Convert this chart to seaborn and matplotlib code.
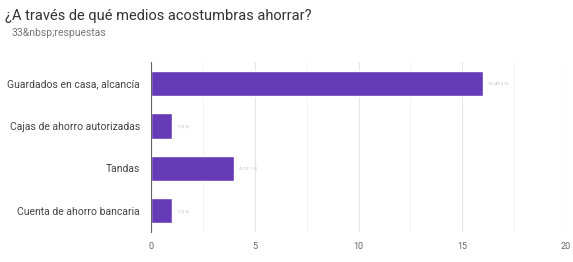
import matplotlib
matplotlib.use("Agg")
import matplotlib.pyplot as plt
import seaborn as sns
import pandas as pd

categories = ["Guardados en casa, alcancía", "Cajas de ahorro autorizadas", "Tandas", "Cuenta de ahorro bancaria"]
values = [16, 1, 4, 1]
value_labels = ["16 (48.5 %)", "1 (3 %)", "4 (12.1 %)", "1 (3 %)"]
xticks = [0, 5, 10, 15, 20]

sns.set_theme(style="white")
plt.rcParams['font.family'] = ['Roboto', 'DejaVu Sans']

df = pd.DataFrame({"medio": categories, "n": values})

fig = plt.figure(figsize=(5.73, 2.62), dpi=100)
ax = fig.add_axes([151/573, 1-232/262, (566-151)/573, (232-62)/262])
sns.barplot(data=df, y="medio", x="n", color="#673ab7", saturation=1, width=0.6, ax=ax, orient="h")

ax.set_xlim(0, 20)
ax.set_xticks(xticks)
ax.set_xticks([2.5, 7.5, 12.5, 17.5], minor=True)
ax.grid(axis="x", which="major", color="#e6e6e6", lw=0.8)
ax.grid(axis="x", which="minor", color="#f3f3f3", lw=0.6)
ax.set_axisbelow(True)
for s in ["top", "right", "bottom"]:
    ax.spines[s].set_visible(False)
ax.spines["left"].set_color("#666666")
ax.spines["left"].set_linewidth(0.8)
ax.tick_params(axis="x", which="both", length=0, labelsize=6.5, labelcolor="#666666", pad=7)
ax.tick_params(axis="y", length=0, labelsize=7.5, labelcolor="#444444", pad=8)
ax.set_xlabel("")
ax.set_ylabel("")

for i, (v, lab) in enumerate(zip(values, value_labels)):
    ax.text(v + 0.25, i, lab, fontsize=3, color="#bbbbbb", va="center", ha="left")

fig.text(5/573, 1-16/262, "¿A través de qué medios acostumbras ahorrar?", fontsize=10.5, color="#333333", va="center", ha="left")
fig.text(12/573, 1-33/262, "33&nbsp;respuestas", fontsize=7.5, color="#777777", va="center", ha="left")

fig.savefig("out.png", dpi=100, facecolor="white")
